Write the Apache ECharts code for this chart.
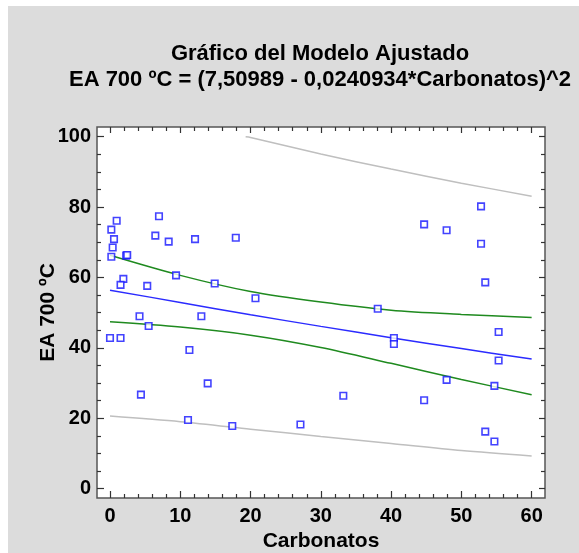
<!DOCTYPE html>
<html>
<head>
<meta charset="utf-8">
<script src="https://cdn.jsdelivr.net/npm/echarts@6/dist/echarts.min.js"></script>
<style>
html,body{margin:0;padding:0;background:#fff;width:579px;height:553px;overflow:hidden;}
#c{position:absolute;left:8px;top:6px;width:571px;height:547px;}
</style>
</head>
<body>
<div id="c"></div>
<script>
// ---- data ----
const carbonatos = [0.95,6.97,0.19,6.45,0.57,8.35,12.1,17.9,0.38,2.3,2.45,0.19,9.4,1.9,1.5,5.3,14.9,20.7,4.2,13.0,5.5,0,1.5,11.3,13.9,4.4,11.1,17.4,52.8,44.7,47.9,52.8,53.4,38.1,55.3,40.4,40.4,55.3,47.9,54.7,33.2,44.7,27.1,53.4,54.7];
const ea700 = [76.1,77.4,73.6,71.9,70.9,70.2,70.9,71.3,68.5,66.2,66.4,65.9,60.6,59.6,57.9,57.6,58.3,54.1,49.0,49.0,46.2,42.8,42.8,39.4,29.9,26.7,19.5,17.8,80.2,75.1,73.4,69.6,58.6,51.1,44.5,42.8,41.1,36.4,30.9,29.2,26.4,25.1,18.2,16.2,13.4];
const lineX = [0,10,20,30,40,50,60];
const fitted = [56.4,52.9,49.4,46.1,42.9,39.8,36.8];
const confUpper = [66.3,60.6,56.0,53.0,50.7,49.5,48.6];
const confLower = [47.4,45.9,43.6,40.1,35.6,31.0,26.7];
const predLower = [20.6,19.0,16.9,14.8,12.8,10.8,9.3];
const predUpperX = [19.3,20,30,40,50,60];
const predUpper = [100,99.8,95.1,90.8,86.8,83.1];
const xMajor = [0,10,20,30,40,50,60];
const xMinor = [2,4,6,8,12,14,16,18,22,24,26,28,32,34,36,38,42,44,46,48,52,54,56,58];
const yMajor = [0,20,40,60,80,100];
const yMinor = [5,10,15,25,30,35,45,50,55,65,70,75,85,90,95];
const titleLines = ['Gráfico del Modelo Ajustado','EA 700 ºC = (7,50989 - 0,0240934*Carbonatos)^2'];
const xName = 'Carbonatos';
const yName = 'EA 700 ºC';

const zip = (xs, ys) => xs.map((x, i) => [x, ys[i]]);
const FONT = '"Liberation Sans", Arial, sans-serif';
const X_MIN = -1.85, X_MAX = 61.9, Y_MIN = -2.67, Y_MAX = 102.76;

function xAx(pos, vals, len, labels, extra) {
  return Object.assign({
    type: 'value', position: pos, min: X_MIN, max: X_MAX,
    axisLine: {show: false, onZero: false}, splitLine: {show: false},
    axisTick: {show: true, inside: true, length: len, customValues: vals, lineStyle: {color: '#333', width: 1.2}},
    axisLabel: labels ? {show: true, customValues: vals, margin: 8, color: '#000', fontFamily: FONT, fontWeight: 'bold', fontSize: 20} : {show: false}
  }, extra || {});
}
function yAx(pos, vals, len, labels, extra) {
  return Object.assign({
    type: 'value', position: pos, min: Y_MIN, max: Y_MAX,
    axisLine: {show: false, onZero: false}, splitLine: {show: false},
    axisTick: {show: true, inside: true, length: len, customValues: vals, lineStyle: {color: '#333', width: 1.2}},
    axisLabel: labels ? {show: true, customValues: vals, margin: 6, color: '#000', fontFamily: FONT, fontWeight: 'bold', fontSize: 20} : {show: false}
  }, extra || {});
}

const chart = echarts.init(document.getElementById('c'), null, {renderer: 'canvas'});
const lineCommon = {type: 'line', xAxisIndex: 0, yAxisIndex: 0, showSymbol: false, symbol: 'none', smooth: 0.3, silent: true};
chart.setOption({
  backgroundColor: '#dcdcdc',
  animation: false,
  grid: {left: 89, top: 121, width: 448, height: 371, show: true, backgroundColor: '#fff', borderColor: '#555', borderWidth: 1.5,
         containLabel: false, outerBoundsMode: 'none'},
  graphic: titleLines.map((t, i) => ({
    type: 'text',
    x: 312, y: 47.5 + i * 26,
    style: {text: t, textAlign: 'center', textVerticalAlign: 'middle', font: 'bold 22px ' + FONT, fill: '#000'}
  })),
  xAxis: [
    xAx('bottom', xMajor, 7, true, {name: xName, nameLocation: 'middle', nameGap: 33, nameMoveOverlap: false,
      nameTextStyle: {color: '#000', fontFamily: FONT, fontWeight: 'bold', fontSize: 21}}),
    xAx('bottom', xMinor, 4, false),
    xAx('top', xMajor, 6, false),
    xAx('top', xMinor, 4, false)
  ],
  yAxis: [
    yAx('left', yMajor, 7, true, {name: yName, nameLocation: 'middle', nameGap: 38, nameRotate: 90, nameMoveOverlap: false,
      nameTextStyle: {color: '#000', fontFamily: FONT, fontWeight: 'bold', fontSize: 21}}),
    yAx('left', yMinor, 4, false),
    yAx('right', yMajor, 6, false),
    yAx('right', yMinor, 4, false)
  ],
  series: [
    Object.assign({}, lineCommon, {data: zip(predUpperX, predUpper), lineStyle: {color: '#bfbfbf', width: 1.5}}),
    Object.assign({}, lineCommon, {data: zip(lineX, predLower), lineStyle: {color: '#bfbfbf', width: 1.5}}),
    Object.assign({}, lineCommon, {data: zip(lineX, confUpper), lineStyle: {color: '#1f8a1f', width: 1.5}}),
    Object.assign({}, lineCommon, {data: zip(lineX, confLower), lineStyle: {color: '#1f8a1f', width: 1.5}}),
    Object.assign({}, lineCommon, {data: zip(lineX, fitted), lineStyle: {color: '#2b2bff', width: 1.5}}),
    {type: 'scatter', xAxisIndex: 0, yAxisIndex: 0, data: zip(carbonatos, ea700), symbol: 'rect', symbolSize: 6.5,
     itemStyle: {color: '#fff', borderColor: '#1414ff', borderWidth: 1.6}, z: 5}
  ]
});
</script>
</body>
</html>
